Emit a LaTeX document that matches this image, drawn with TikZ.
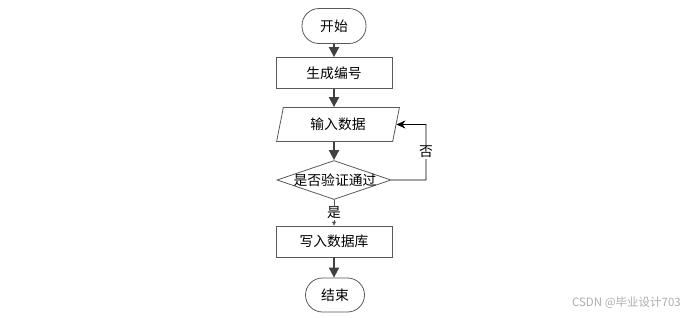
\documentclass[tikz,border=0pt]{standalone}
\usepackage{fontspec}
\newfontfamily\cjk{Noto Sans CJK SC}
\usetikzlibrary{shapes.geometric,arrows.meta}
\begin{document}
\begin{tikzpicture}[x=1pt,y=-1pt,
  every node/.style={font=\cjk\fontsize{13.8}{15}\selectfont, text=black, inner sep=0pt},
  term/.style={draw=black!65, line width=0.8pt, rounded corners=17pt, minimum height=35pt},
  proc/.style={draw=black!65, line width=0.8pt, minimum width=116pt, minimum height=31pt},
  io/.style={draw=black!65, line width=0.8pt, trapezium, trapezium left angle=75, trapezium right angle=105, minimum width=123pt, minimum height=34pt, trapezium stretches=true},
  dec/.style={draw=black!65, line width=0.8pt, diamond, aspect=2.9, minimum width=114pt, minimum height=39pt},
  flow/.style={draw=black!75, line width=1.8pt, -{Triangle[length=10pt,width=10pt]}},
  thin/.style={draw=black, line width=0.8pt, -{Stealth[length=9pt,width=8pt]}},
  lbl/.style={fill=white, inner sep=1pt}
]
\useasboundingbox (0,0) rectangle (688,317);
\node[term, minimum width=64pt] (start) at (334,26) {开始};
\node[proc] (gen) at (334,73) {生成编号};
\node[io] (inp) at (338,124.5) {输入数据};
\node[dec] (chk) at (334,180) {};
\node (chkt) at (335,180) {是否验证通过};
\node[proc] (wr) at (334,241.5) {写入数据库};
\node[term, minimum width=59pt, minimum height=34pt] (end) at (335,295) {结束};
\coordinate (c1) at (426,180);
\coordinate (c2) at (426,124.5);
\draw[flow] (start.south) -- (gen.north);
\draw[flow] (gen.south) -- (gen.south |- inp.north);
\draw[flow] (gen.south |- inp.south) -- (chk.north);
\draw[flow] (wr.south) -- (wr.south |- end.north);
\draw[thin] (chk.east) -- (c1) -- (c2) -- (inp.east);
\node[lbl] (no) at (426,152) {否};
\draw[draw=black!65, line width=0.8pt, -{Triangle[length=4pt,width=4pt]}] (chk.south) -- (wr.north);
\node[lbl] (yes) at (334,213) {是};
\node[font=\fontspec{Noto Sans CJK SC}\fontsize{11.5}{13}\selectfont, text=black!32, anchor=east] (wm) at (681,303) {CSDN @毕业设计703};
\end{tikzpicture}
\end{document}
